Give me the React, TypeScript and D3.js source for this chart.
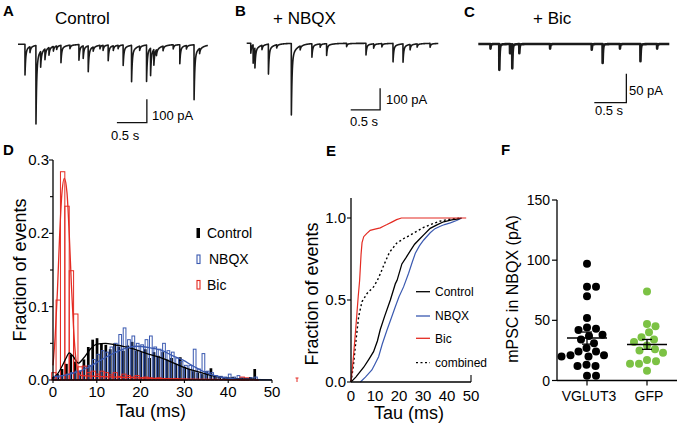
import React from 'react';
import * as d3 from 'd3';

const FONT = "'Liberation Sans', Arial, Helvetica, sans-serif";
const RED = '#e42b22';
const BLUE = '#3a59b0';
const GREEN = '#7cc244';

// ---------- Panels A-C: events [time (s), amplitude (pA)] ----------
const controlEvents: [number, number][] = [
  [0.117, 131], [0.2, 25], [0.3, 335], [0.378, 67], [0.45, 46], [0.517, 33], [0.59, 20], [0.645, 15],
  [0.717, 74], [0.867, 15], [1.017, 67], [1.088, 54], [1.172, 110], [1.255, 18], [1.367, 15], [1.42, 22],
  [1.505, 67], [1.59, 20], [1.67, 15], [1.755, 88], [1.895, 156], [2.03, 18], [2.145, 156], [2.212, 117],
  [2.267, 67], [2.31, 25], [2.42, 20], [2.59, 18], [2.7, 81], [2.81, 15], [2.938, 235], [3.03, 22],
];
const nbqxEvents: [number, number][] = [
  [0.07, 46], [0.11, 85], [0.14, 92], [0.26, 20], [0.37, 138], [0.51, 15], [0.76, 330], [0.91, 18],
  [1.11, 62], [1.25, 15], [1.36, 54], [1.7, 15], [2.03, 54], [2.16, 20], [2.3, 15], [2.49, 85],
  [2.66, 85], [2.78, 25], [2.9, 15], [3.12, 18],
];
const bicEvents: [number, number][] = [
  [0.19, 8], [0.328, 45], [0.495, 16], [0.53, 42], [0.64, 16], [1.12, 8], [1.77, 10], [1.94, 33],
  [2.21, 8], [2.53, 30], [2.79, 8],
];
const traceDurations = [3.17, 3.26, 2.98];

// ---------- Panel D: histograms (1 ms bins) ----------
const histBins = d3.range(0, 47);
const controlHist = [
  0.004, 0.008, 0.015, 0.022, 0.035, 0.025, 0.012, 0.028, 0.045, 0.055, 0.057, 0.05, 0.048, 0.042, 0.05, 0.045,
  0.04, 0.047, 0.052, 0.04, 0.038, 0.042, 0.03, 0.038, 0.033, 0.038, 0.028, 0.03, 0.022, 0.031, 0.018, 0.015,
  0.012, 0.01, 0.008, 0.012, 0.016, 0.006, 0.005, 0.004, 0.003, 0.004, 0.002, 0.003, 0.002, 0.004, 0.015,
];
const nbqxHist = [
  0.003, 0.004, 0.006, 0.008, 0.01, 0.012, 0.012, 0.018, 0.02, 0.028, 0.035, 0.04, 0.038, 0.045, 0.05, 0.062,
  0.071, 0.055, 0.06, 0.05, 0.048, 0.055, 0.06, 0.045, 0.042, 0.05, 0.04, 0.038, 0.03, 0.025, 0.02, 0.02,
  0.042, 0.015, 0.036, 0.012, 0.01, 0.006, 0.005, 0.004, 0.008, 0.004, 0.006, 0.003, 0.002, 0.003, 0.004,
];
const bicHist = [
  0.01, 0.109, 0.284, 0.237, 0.149, 0.09, 0.018, 0.019, 0.01, 0.012, 0.008, 0.012, 0.01, 0.007, 0.01, 0.005,
  0.008, 0.006, 0.004, 0.006, 0.003, 0.004, 0.003, 0.002, 0.003, 0.002, 0.002, 0.001, 0.002, 0.001, 0.001, 0,
  0, 0, 0, 0, 0, 0, 0, 0, 0, 0, 0, 0.004, 0.003, 0, 0,
];
const controlFit: [number, number][] = [
  [0, 0.003], [1, 0.008], [2, 0.018], [3, 0.03], [3.7, 0.037], [4.5, 0.033], [5.8, 0.023], [7, 0.03], [8.5, 0.042],
  [10, 0.049], [12, 0.05], [14, 0.048], [16, 0.046], [18, 0.043], [20, 0.039], [22, 0.035], [24.4, 0.031],
  [26, 0.027], [28, 0.022], [30, 0.017], [32, 0.013], [35, 0.008], [38, 0.004], [42, 0.002], [46, 0.001],
];
const nbqxFit: [number, number][] = [
  [0, 0.0045], [3, 0.007], [5, 0.01], [8, 0.017], [10, 0.024], [13, 0.034], [16, 0.042], [19, 0.046],
  [22, 0.044], [25, 0.04], [27, 0.034], [29.7, 0.027], [32, 0.019], [34.6, 0.011], [37.7, 0.0045],
  [41, 0.002], [45, 0.0008], [50, 0.0003],
];
const bicFit: [number, number][] = [
  [0, 0.02], [0.5, 0.06], [1, 0.12], [1.5, 0.195], [2, 0.252], [2.6, 0.275], [3.2, 0.255], [3.7, 0.2],
  [4.2, 0.13], [4.7, 0.07], [5.2, 0.03], [5.7, 0.012], [6.5, 0.006], [10, 0.005], [20, 0.003], [30, 0.001],
  [40, 0.0005], [47, 0],
];

// ---------- Panel E: cumulative distributions ----------
const controlCdf: [number, number][] = [
  [0, 0], [2, 0.03], [5.3, 0.09], [7.5, 0.14], [9.4, 0.185], [11, 0.25], [12.2, 0.32], [14, 0.4], [16.4, 0.5],
  [18.5, 0.6], [19.2, 0.62], [21.2, 0.72], [23, 0.76], [24.7, 0.8], [26.5, 0.84], [28.2, 0.866], [30.5, 0.9],
  [33, 0.937], [36, 0.96], [38.6, 0.977], [42, 0.988], [44.8, 0.994], [46, 1],
];
const nbqxCdf: [number, number][] = [
  [3.9, 0], [6, 0.03], [8.7, 0.073], [10, 0.11], [11.5, 0.154], [13, 0.23], [15, 0.317], [16.8, 0.39],
  [18.5, 0.46], [20, 0.52], [21.9, 0.58], [24, 0.663], [25.5, 0.73], [26.8, 0.785], [28.5, 0.83],
  [30.3, 0.866], [33, 0.91], [35, 0.935], [37.2, 0.95], [39, 0.96], [41.4, 0.97], [44, 0.985], [46.2, 1],
];
const bicCdf: [number, number][] = [
  [0, 0], [1, 0.15], [2, 0.33], [3, 0.52], [3.6, 0.62], [4.2, 0.78], [4.6, 0.85], [5.3, 0.886], [6.5, 0.905],
  [8, 0.925], [10, 0.932], [12.2, 0.94], [13.5, 0.95], [15, 0.96], [17, 0.975], [19, 0.99], [21, 1], [48, 1],
];
const combinedCdf: [number, number][] = [
  [0, 0], [1, 0.1], [1.8, 0.215], [2.5, 0.31], [3.2, 0.4], [4.6, 0.49], [6.7, 0.54], [9.4, 0.58], [11, 0.62],
  [12.5, 0.67], [13.6, 0.71], [16, 0.79], [19, 0.846], [22, 0.875], [24.7, 0.896], [27.5, 0.92], [30.3, 0.943],
  [34.4, 0.967], [37, 0.98], [40, 0.99], [43, 0.995], [46, 1],
];

// ---------- Panel F: mPSC amplitudes (pA) ----------
const groups = ['VGLUT3', 'GFP'];
const vglut3Amps = [97, 78, 78, 70, 52, 44, 43, 42, 38, 37, 34, 31, 27, 24, 24, 21, 20, 20, 21, 12, 12, 13, 4, 4];
const gfpAmps = [74, 47, 45, 40, 36, 34, 32, 29, 26, 25, 23, 17, 16, 14, 14, 8];

function buildTrace(events: [number, number][], duration: number, tauFast: number, tauSlow: number, slowFrac: number) {
  const set = new Set<number>();
  for (let k = 0; k <= Math.round(duration / 0.004); k++) set.add(+(k * 0.004).toFixed(4));
  events.forEach(([t]) => { set.add(t); set.add(+(t - 0.0015).toFixed(4)); });
  const ts = Array.from(set).filter((t) => t >= 0 && t <= duration).sort((a, b) => a - b);
  return ts.map((t) => {
    let v = 0;
    for (const [t0, a] of events) {
      if (t >= t0) {
        const dt = t - t0;
        v -= a * ((1 - slowFrac) * Math.exp(-dt / tauFast) + slowFrac * Math.exp(-dt / tauSlow));
      }
    }
    return [t, v] as [number, number];
  });
}

function swarm(values: number[], y: (v: number) => number, cx: number, r: number) {
  const order = values.map((_, i) => i).sort((a, b) => values[b] - values[a]);
  const placed: { x: number; y: number }[] = [];
  const out: { x: number; y: number; v: number }[] = [];
  const offsets: number[] = [0];
  for (let k = 1; k < 80; k++) { offsets.push(k * 0.5); offsets.push(-k * 0.5); }
  for (const i of order) {
    const py = y(values[i]);
    let px = cx;
    for (const o of offsets) {
      const cand = cx + o;
      if (placed.every((p) => (p.x - cand) ** 2 + (p.y - py) ** 2 >= (2 * r + 0.6) ** 2)) { px = cand; break; }
    }
    placed.push({ x: px, y: py });
    out.push({ x: px, y: py, v: values[i] });
  }
  return out;
}

type TraceCfg = {
  events: [number, number][]; duration: number; x0: number; x1: number; base: number; pxPerUnit: number; unit: number;
  bar: { t0: number; t1: number; i0: number }; tauFast: number; tauSlow: number; slowFrac: number; sw: number;
  unitLabel: string; unitX: number; unitY: number; secX: number; secY: number; secAnchor: string;
};

function Trace({ cfg }: { cfg: TraceCfg }) {
  const x = d3.scaleLinear().domain([0, cfg.duration]).range([cfg.x0, cfg.x1]);
  const y = d3.scaleLinear().domain([0, -cfg.unit]).range([cfg.base, cfg.base + cfg.pxPerUnit]);
  const pts = buildTrace(cfg.events, cfg.duration, cfg.tauFast, cfg.tauSlow, cfg.slowFrac);
  const line = d3.line<[number, number]>().x((d) => x(d[0])).y((d) => y(d[1]));
  const b = cfg.bar;
  return (
    <g>
      <path d={line(pts) || ''} fill="none" stroke="#1a1a1a" strokeWidth={cfg.sw} strokeLinejoin="round" />
      <path
        d={`M${x(b.t0)},${y(b.i0)}H${x(b.t1)}V${y(b.i0 + cfg.unit)}`}
        fill="none" stroke="#111" strokeWidth={1.3}
      />
      <text x={cfg.unitX} y={cfg.unitY} fontSize={13}>{cfg.unitLabel}</text>
      <text x={cfg.secX} y={cfg.secY} fontSize={13} textAnchor={cfg.secAnchor as any}>0.5 s</text>
    </g>
  );
}

export default function App() {
  const traces: TraceCfg[] = [
    {
      events: controlEvents, duration: traceDurations[0], x0: 18, x1: 208, base: 44.3, pxPerUnit: 23.4, unit: 100,
      bar: { t0: 1.65, t1: 2.15, i0: -335 }, tauFast: 0.012, tauSlow: 0.09, slowFrac: 0.2, sw: 1.6,
      unitLabel: '100 pA', unitX: 152, unitY: 120, secX: 111, secY: 140, secAnchor: 'start',
    },
    {
      events: nbqxEvents, duration: traceDurations[1], x0: 246.7, x1: 438.3, base: 43.3, pxPerUnit: 21.7, unit: 100,
      bar: { t0: 1.77, t1: 2.27, i0: -307 }, tauFast: 0.012, tauSlow: 0.09, slowFrac: 0.2, sw: 1.6,
      unitLabel: '100 pA', unitX: 386, unitY: 104, secX: 364, secY: 126, secAnchor: 'middle',
    },
    {
      events: bicEvents, duration: traceDurations[2], x0: 478.3, x1: 669.3, base: 44, pxPerUnit: 28.7, unit: 50,
      bar: { t0: 1.81, t1: 2.31, i0: -102 }, tauFast: 0.006, tauSlow: 0.04, slowFrac: 0.05, sw: 2.6,
      unitLabel: '50 pA', unitX: 629, unitY: 95, secX: 609, secY: 115, secAnchor: 'middle',
    },
  ];

  // ----- Panel D -----
  const xD = d3.scaleLinear().domain([0, 50]).range([53, 272]);
  const yD = d3.scaleLinear().domain([0, 0.3]).range([380, 160]);
  const bw = xD(1) - xD(0);
  const fitLine = d3.line<[number, number]>().x((d) => xD(d[0])).y((d) => yD(d[1])).curve(d3.curveMonotoneX);

  // ----- Panel E -----
  const xE = d3.scaleLinear().domain([0, 50]).range([351, 471]);
  const yE = d3.scaleLinear().domain([0, 1]).range([382, 218]);
  const cdfLine = d3.line<[number, number]>().x((d) => xE(d[0])).y((d) => yE(d[1]));

  // ----- Panel F -----
  const xF = d3.scalePoint<string>().domain(groups).range([557, 677]).padding(0.5);
  const yF = d3.scaleLinear().domain([0, 150]).range([380.5, 200]);
  const fData = [
    { g: groups[0], vals: vglut3Amps, color: '#000' },
    { g: groups[1], vals: gfpAmps, color: GREEN },
  ];

  return (
    <svg width={679} height={429} style={{ position: 'fixed', left: 0, top: 0, background: '#fff' }} fontFamily={FONT}>
      <rect x={0} y={0} width={679} height={429} fill="#fff" />
      {/* Panel letters */}
      {[['A', 3, 16], ['B', 235, 16], ['C', 464, 16.5], ['D', 3, 155], ['E', 326, 156], ['F', 501, 155]].map(([t, x, y]) => (
        <text key={t as string} x={x as number} y={y as number} fontSize={15} fontWeight="bold">{t}</text>
      ))}
      {/* Titles */}
      <text x={55} y={24} fontSize={17}>Control</text>
      <text x={273} y={24} fontSize={17}>+ NBQX</text>
      <text x={533} y={24} fontSize={17}>+ Bic</text>

      {traces.map((c, i) => <Trace key={i} cfg={c} />)}

      {/* ===== Panel D ===== */}
      <g>
        {histBins.map((b) => (
          <rect key={'c' + b} x={xD(b - 0.3) + 0.2} y={yD(controlHist[b])} width={bw * 0.62}
            height={yD(0) - yD(controlHist[b])} fill="#000" />
        ))}
        {histBins.map((b) => (
          <rect key={'n' + b} x={xD(b - 0.3) + bw * 0.33} y={yD(nbqxHist[b])} width={bw * 0.62}
            height={yD(0) - yD(nbqxHist[b])} fill="none" stroke={BLUE} strokeWidth={1} />
        ))}
        {histBins.filter((b) => bicHist[b] > 0).map((b) => (
          <rect key={'r' + b} x={xD(b - 0.3)} y={yD(bicHist[b])} width={bw}
            height={yD(0) - yD(bicHist[b])} fill="none" stroke={RED} strokeWidth={1} />
        ))}
        <path d={fitLine(controlFit) || ''} fill="none" stroke="#000" strokeWidth={1.3} />
        <path d={fitLine(nbqxFit) || ''} fill="none" stroke={BLUE} strokeWidth={1.3} />
        <path d={fitLine(bicFit) || ''} fill="none" stroke={RED} strokeWidth={1.3} />
        {/* axes */}
        <line x1={xD(0)} x2={xD(0)} y1={yD(0.3)} y2={yD(0)} stroke="#000" strokeWidth={1.3} />
        <line x1={xD(0)} x2={xD(50)} y1={yD(0)} y2={yD(0)} stroke="#000" strokeWidth={1.3} />
        {d3.range(0, 0.301, 0.05).map((v, i) => (
          <line key={'dy' + i} x1={xD(0) - (i % 2 === 0 ? 4 : 3)} x2={xD(0)} y1={yD(v)} y2={yD(v)} stroke="#000" strokeWidth={1.1} />
        ))}
        {[0, 0.1, 0.2, 0.3].map((v) => (
          <text key={'dyl' + v} x={49} y={yD(v) + 5} fontSize={15} textAnchor="end">{v.toFixed(1)}</text>
        ))}
        {d3.range(0, 51, 10).map((v) => (
          <g key={'dx' + v}>
            <line x1={xD(v)} x2={xD(v)} y1={yD(0)} y2={yD(0) + 3} stroke="#000" strokeWidth={1.1} />
            <text x={xD(v)} y={397} fontSize={15} textAnchor="middle">{v}</text>
          </g>
        ))}
        <text x={151} y={417} fontSize={18} textAnchor="middle">Tau (ms)</text>
        <text transform="translate(26,270) rotate(-90)" fontSize={18} textAnchor="middle">Fraction of events</text>
        {/* legend */}
        <rect x={196.5} y={228} width={3.5} height={10} fill="#000" />
        <text x={207} y={237.5} fontSize={14}>Control</text>
        <rect x={197} y={255} width={3} height={8.5} fill="none" stroke={BLUE} strokeWidth={1.1} />
        <text x={209} y={263.5} fontSize={14}>NBQX</text>
        <rect x={197} y={280.5} width={3} height={8.5} fill="none" stroke={RED} strokeWidth={1.1} />
        <text x={207} y={289.5} fontSize={14}>Bic</text>
        <line x1={297} x2={297} y1={378} y2={382} stroke={RED} strokeWidth={1} />
        <line x1={295.5} x2={298.5} y1={378} y2={378} stroke={RED} strokeWidth={1} />
      </g>

      {/* ===== Panel E ===== */}
      <g>
        <path d={cdfLine(combinedCdf) || ''} fill="none" stroke="#000" strokeWidth={1.4} strokeDasharray="2,2.5" />
        <path d={cdfLine(nbqxCdf) || ''} fill="none" stroke={BLUE} strokeWidth={1.2} />
        <path d={cdfLine(controlCdf) || ''} fill="none" stroke="#000" strokeWidth={1.3} />
        <path d={cdfLine(bicCdf) || ''} fill="none" stroke={RED} strokeWidth={1.2} />
        <line x1={xE(0)} x2={xE(0)} y1={198} y2={yE(0)} stroke="#000" strokeWidth={1.3} />
        <line x1={xE(0)} x2={xE(50)} y1={yE(0)} y2={yE(0)} stroke="#000" strokeWidth={1.3} />
        <line x1={xE(50)} x2={xE(50)} y1={yE(0)} y2={yE(0) - 7} stroke="#000" strokeWidth={1.1} />
        {[0, 0.5, 1].map((v) => (
          <g key={'ey' + v}>
            <line x1={xE(0) - 4} x2={xE(0)} y1={yE(v)} y2={yE(v)} stroke="#000" strokeWidth={1.1} />
            <text x={346} y={yE(v) + 5} fontSize={15} textAnchor="end">{v.toFixed(1)}</text>
          </g>
        ))}
        {d3.range(0, 51, 10).map((v) => (
          <text key={'ex' + v} x={xE(v)} y={401} fontSize={15} textAnchor="middle">{v}</text>
        ))}
        <text x={409} y={419} fontSize={18} textAnchor="middle">Tau (ms)</text>
        <text transform="translate(318,294) rotate(-90)" fontSize={18} textAnchor="middle">Fraction of events</text>
        {[
          { label: 'Control', color: '#000', y: 291.7, dash: '' },
          { label: 'NBQX', color: BLUE, y: 316, dash: '' },
          { label: 'Bic', color: RED, y: 338.3, dash: '' },
          { label: 'combined', color: '#000', y: 362.7, dash: '2,2.5' },
        ].map((l) => (
          <g key={l.label}>
            <line x1={416} x2={430} y1={l.y} y2={l.y} stroke={l.color} strokeWidth={1.3} strokeDasharray={l.dash || undefined} />
            <text x={435} y={l.y + 4.3} fontSize={12}>{l.label}</text>
          </g>
        ))}
      </g>

      {/* ===== Panel F ===== */}
      <g>
        {fData.map((gr) => {
          const cx = xF(gr.g) as number;
          const pts = swarm(gr.vals, (v) => yF(v), cx, 4);
          const mean = d3.mean(gr.vals) as number;
          const sem = (d3.deviation(gr.vals) as number) / Math.sqrt(gr.vals.length);
          return (
            <g key={gr.g}>
              {pts.map((p, i) => <circle key={i} cx={p.x} cy={p.y} r={4} fill={gr.color} />)}
              <line x1={cx - 20} x2={cx + 20} y1={yF(mean)} y2={yF(mean)} stroke="#000" strokeWidth={1.5} />
              <line x1={cx} x2={cx} y1={yF(mean - sem)} y2={yF(mean + sem)} stroke="#000" strokeWidth={1.3} />
              <line x1={cx - 5} x2={cx + 5} y1={yF(mean - sem)} y2={yF(mean - sem)} stroke="#000" strokeWidth={1.3} />
              <line x1={cx - 5} x2={cx + 5} y1={yF(mean + sem)} y2={yF(mean + sem)} stroke="#000" strokeWidth={1.3} />
              <line x1={cx} x2={cx} y1={yF(0)} y2={yF(0) + 5} stroke="#000" strokeWidth={1.2} />
              <text x={cx + 2} y={401} fontSize={14} textAnchor="middle">{gr.g}</text>
            </g>
          );
        })}
        <line x1={557} x2={557} y1={yF(150)} y2={yF(0)} stroke="#000" strokeWidth={1.3} />
        <line x1={557} x2={677} y1={yF(0)} y2={yF(0)} stroke="#000" strokeWidth={1.3} />
        {[0, 50, 100, 150].map((v) => (
          <g key={'fy' + v}>
            <line x1={552} x2={557} y1={yF(v)} y2={yF(v)} stroke="#000" strokeWidth={1.2} />
            <text x={550} y={yF(v) + 5} fontSize={14} textAnchor="end">{v}</text>
          </g>
        ))}
        <text transform="translate(518,289) rotate(-90)" fontSize={16} textAnchor="middle">mPSC in NBQX (pA)</text>
      </g>
    </svg>
  );
}
